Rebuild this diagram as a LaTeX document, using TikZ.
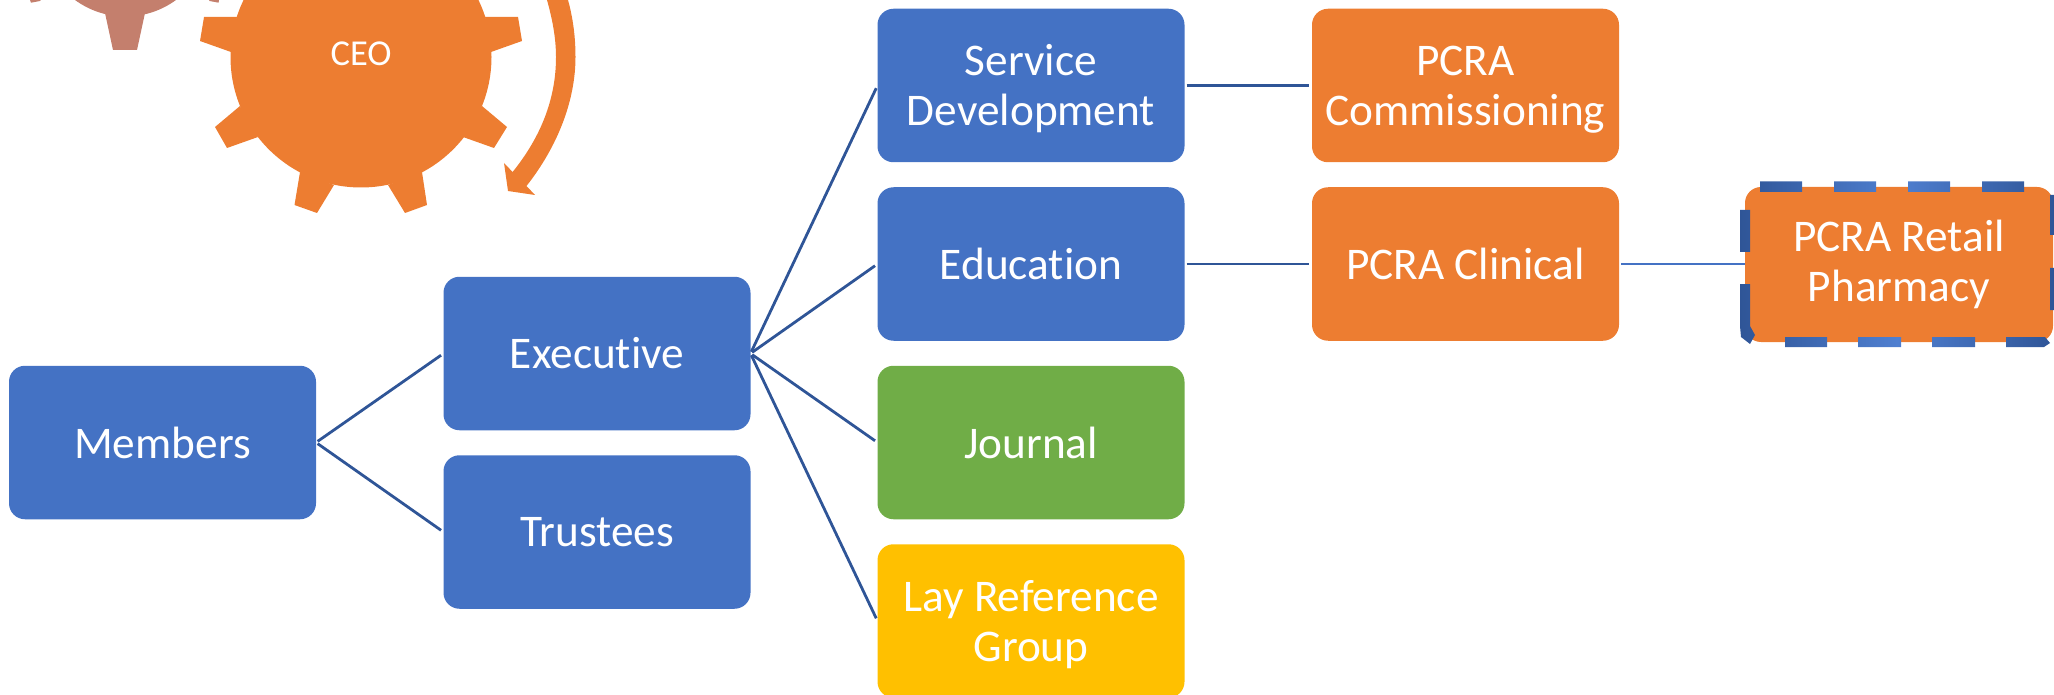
\documentclass[tikz,border=0pt]{standalone}
\usepackage{fontspec}
\setmainfont{Carlito}[Ligatures=NoCommon]
\definecolor{cblue}{HTML}{4472C4}
\definecolor{corange}{HTML}{ED7D31}
\definecolor{cgreen}{HTML}{70AD47}
\definecolor{cgold}{HTML}{FFC000}
\definecolor{cline}{HTML}{2F5597}
\definecolor{cbrown}{HTML}{C47F6D}
\definecolor{cdashd}{HTML}{2F5597}
\definecolor{cdashl}{HTML}{4F7FD0}
\newcommand{\lowerline}{\rule{0pt}{38pt}}
\tikzset{
  boxnode/.style={rectangle,rounded corners=16pt,minimum width=307pt,minimum height=153.5pt,
    inner sep=0pt,outer sep=0pt,text=white,align=center,
    font=\fontsize{45.3pt}{50pt}\selectfont},
  conn/.style={draw=cline,line width=2.8pt,shorten <=2pt,shorten >=3pt},
  connl/.style={conn,draw=cblue},
}
\begin{document}
\begin{tikzpicture}[x=1pt,y=-1pt]
\useasboundingbox (0,0) rectangle (2054,695);
\begin{scope}
\clip (0,0) rectangle (2054,695);
% brown gear
\fill[cbrown] (125.5,-69) circle (85.5);
\fill[cbrown] (105,13) -- (113,50) -- (137,50) -- (145,13) -- cycle;
\fill[cbrown] (30,0) -- (31,2.7) -- (40,1) -- (41,0) -- cycle;
\fill[cbrown] (209,0) -- (209.5,1) -- (218.6,2.7) -- (219,0) -- cycle;
% orange gear
\fill[corange] (361,57) circle (130.5);
\fill[corange] (237,17) -- (204,17) -- (200,41) -- (231,52) -- cycle;
\fill[corange] (485,17) -- (518,17) -- (522,41) -- (491,52) -- cycle;
\fill[corange] (240,106) -- (215,127) -- (227,148) -- (258,137) -- cycle;
\fill[corange] (482,106) -- (507,127) -- (494,148) -- (463,137) -- cycle;
\fill[corange] (300,172) -- (294.5,205) -- (317,213) -- (334,185) -- cycle;
\fill[corange] (422,172) -- (427,205) -- (405,213) -- (388,185) -- cycle;
% circular arrow
\fill[corange] (547,0) .. controls (552,18) and (556,37) .. (556,57)
  .. controls (556,100) and (540,138) .. (512.6,172)
  -- (504,163) -- (508,191) -- (535,195) -- (526.5,186)
  .. controls (558,146) and (575.5,100) .. (575.5,57)
  .. controls (575.5,37) and (573,18) .. (568,0) -- cycle;
\end{scope}
\node[text=white,font=\fontsize{36.5pt}{40pt}\selectfont] (ceo) at (361,54) {CEO};
% boxes
\node[boxnode,fill=cblue] (members) at (162.5,442.5) {Members};
\node[boxnode,fill=cblue] (exec) at (597,353.5) {Executive};
\node[boxnode,fill=cblue] (trustees) at (597,532) {Trustees};
\node[boxnode,fill=cblue] (service) at (1031,85.5) {\lowerline Service\\Development};
\node[boxnode,fill=cblue] (education) at (1031,264) {Education};
\node[boxnode,fill=cgreen] (journal) at (1031,442.5) {Journal};
\node[boxnode,fill=cgold] (lay) at (1031,621) {\lowerline Lay Reference\\Group};
\node[boxnode,fill=corange] (comm) at (1465.5,85.5) {\lowerline PCRA\\Commissioning};
\node[boxnode,fill=corange] (clinical) at (1465.5,264) {PCRA Clinical};
\node[boxnode,fill=corange,minimum width=308pt,minimum height=155pt] (retail) at (1899,264.5) {PCRA Retail\\Pharmacy};
% connectors
\draw[conn] (members.east) -- (exec.west);
\draw[conn] (members.east) -- (trustees.west);
\draw[conn] (exec.east) -- (service.west);
\draw[conn] (exec.east) -- (education.west);
\draw[conn] (exec.east) -- (journal.west);
\draw[conn] (exec.east) -- (lay.west);
\draw[conn] (service.east) -- (comm.west);
\draw[conn] (education.east) -- (clinical.west);
\draw[connl,shorten >=0pt] (clinical.east) -- (clinical.east -| retail.west);
% dashed outline of the retail box
\shade[left color=cdashd,right color=cdashd,middle color=cdashl]
  (1760,181.5) rectangle (1802,192)
  (1834,181.5) rectangle (1876,192)
  (1908,181.5) rectangle (1950,192)
  (1982,181.5) rectangle (2024,192)
  (1785,337) rectangle (1827,347)
  (1858,337) rectangle (1901,347)
  (1932,337) rectangle (1975,347)
  (1740,210) rectangle (1750,252)
  (1740,284) -- (1750,284) -- (1750,326) -- (1755,335) -- (1750,344) -- (1741,337) -- (1740,326) -- cycle
  (2006,337) -- (2045,337) -- (2050,343) -- (2044,347) -- (2006,347) -- cycle
  (2050,195) rectangle (2054,235)
  (2050,268) rectangle (2054,310);
\end{tikzpicture}
\end{document}
